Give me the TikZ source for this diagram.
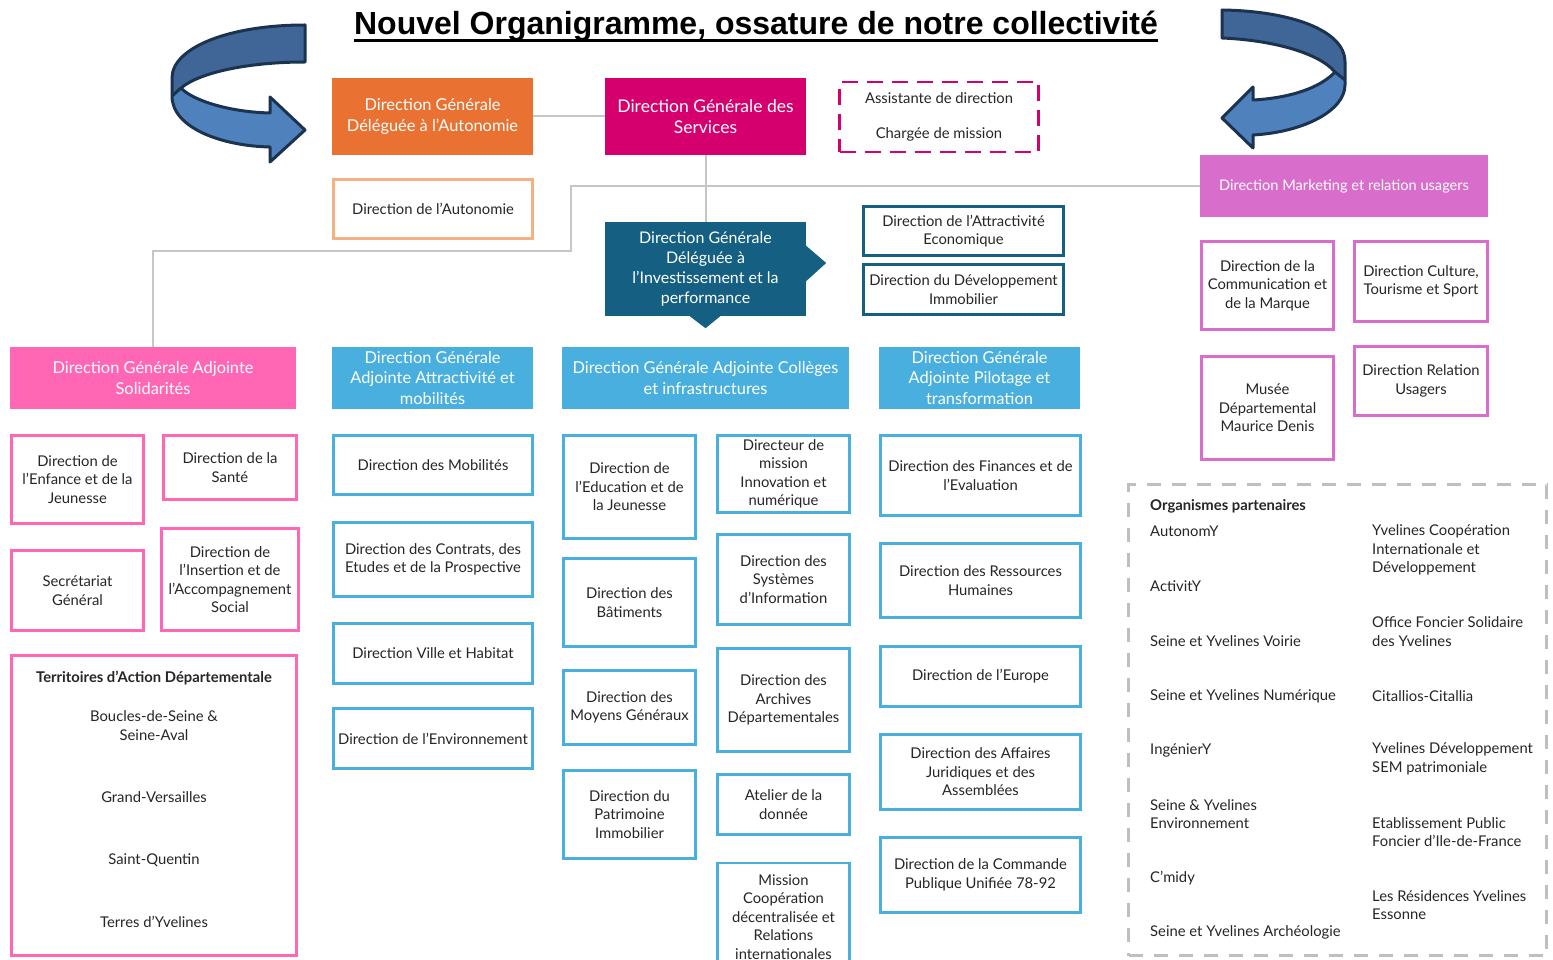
\documentclass[tikz,border=0pt]{standalone}
\usepackage{fontspec}
\setmainfont{Lato}
\newfontfamily\titlefont{Liberation Sans}
\usetikzlibrary{calc}
\definecolor{corange}{HTML}{E97132}
\definecolor{cdgs}{HTML}{D5006E}
\definecolor{cteal}{HTML}{156082}
\definecolor{cpink}{HTML}{FF66B4}
\definecolor{cblue}{HTML}{48AFDF}
\definecolor{corchid}{HTML}{D86DCB}
\definecolor{cpeach}{HTML}{F4B183}
\definecolor{cline}{HTML}{C6C6C6}
\definecolor{cdash}{HTML}{BFBFBF}
\definecolor{ctxt}{HTML}{262626}
\definecolor{arrdark}{HTML}{3F6696}
\definecolor{arrlight}{HTML}{4F81BD}
\definecolor{arrline}{HTML}{1C3350}

\begin{document}
\begin{tikzpicture}[x=1pt,y=-1pt,
   hd/.style={fill=#1, text=white, align=center, inner sep=2pt,
     font=\fontsize{16.4}{20.5}\selectfont},
   bx/.style={draw=#1, line width=2.8pt, fill=white, text=ctxt, align=center,
     inner sep=2pt, font=\fontsize{14.8}{18.4}\selectfont},
   sz/.style 2 args={minimum width=#1, minimum height=#2},
   link/.style={draw=cline, line width=2pt},
   lbl/.style={text=ctxt, align=center, inner sep=0pt, font=\fontsize{14.8}{18.4}\selectfont},
   org/.style={lbl, anchor=west, align=left},
   arrow shape/.style={line width=3pt, draw=arrline, line join=round}]
  \useasboundingbox[fill=white] (0,0) rectangle (1553,960);

  \node[inner sep=0pt, font=\titlefont\bfseries\fontsize{32}{36}\selectfont] (ttl) at (756,26)
    {Nouvel Organigramme, ossature de notre collectivité};
  \draw[line width=2.8pt] ([yshift=-6pt]ttl.base west) -- ([yshift=-6pt]ttl.base east);

  \fill[arrlight] (305,25) .. controls (228,25) and (172,48) .. (172,78) -- (172,96)
    .. controls (172,128) and (222,146) .. (270,147) -- (270,162) -- (305,130) -- (270,97)
    -- (270,113) .. controls (228,112) and (192,100) .. (181,88)
    .. controls (200,72) and (250,62) .. (305,62) -- cycle;
  \fill[arrdark] (305,25) .. controls (228,25) and (172,48) .. (172,78) -- (172,96) -- (181,88)
    .. controls (200,72) and (250,62) .. (305,62) -- cycle;
  \draw[arrow shape] (305,25) .. controls (228,25) and (172,48) .. (172,78) -- (172,96)
    .. controls (172,128) and (222,146) .. (270,147) -- (270,162) -- (305,130) -- (270,97)
    -- (270,113) .. controls (228,112) and (192,100) .. (181,88)
    .. controls (200,72) and (250,62) .. (305,62) -- cycle;
  \draw[arrow shape] (172,96) -- (181,88);

  \fill[arrlight] (1222,10) -- (1222,38) .. controls (1270,40) and (1318,52) .. (1335,72)
    .. controls (1320,88) and (1290,98) .. (1253,100) -- (1253,87) -- (1222,118) -- (1253,148)
    -- (1253,135) .. controls (1305,132) and (1345,110) .. (1345,85) -- (1345,62)
    .. controls (1345,30) and (1290,11) .. (1222,10) -- cycle;
  \fill[arrdark] (1222,10) -- (1222,38) .. controls (1270,40) and (1318,52) .. (1335,72)
    -- (1345,80) -- (1345,62) .. controls (1345,30) and (1290,11) .. (1222,10) -- cycle;
  \draw[arrow shape] (1222,10) -- (1222,38) .. controls (1270,40) and (1318,52) .. (1335,72)
    .. controls (1320,88) and (1290,98) .. (1253,100) -- (1253,87) -- (1222,118) -- (1253,148)
    -- (1253,135) .. controls (1305,132) and (1345,110) .. (1345,85) -- (1345,62)
    .. controls (1345,30) and (1290,11) .. (1222,10) -- cycle;
  \draw[arrow shape] (1335,72) -- (1345,80);

  \node[hd=corange, sz={201pt}{77pt}] (dgda) at (432.5,116.5)
    {Direction Générale\\Déléguée à l’Autonomie};
  \node[hd=cdgs, sz={201pt}{77pt}, font=\fontsize{17.5}{21.5}\selectfont] (dgs) at (705.5,116.5)
    {Direction Générale des\\Services};
  \node[bx=cdgs, dash pattern=on 16pt off 9pt, sz={199pt}{70pt}, font=\fontsize{14.8}{35}\selectfont]
    (asst) at (939,117) {Assistante de direction\\Chargée de mission};
  \node[bx=cpeach, sz={199pt}{59pt}] (auto) at (433,209) {Direction de l’Autonomie};
  \node[hd=cteal, sz={201pt}{94pt}, font=\fontsize{16}{20.3}\selectfont] (dgdi) at (705.5,269)
    {Direction Générale\\Déléguée à\\l’Investissement et la\\performance};
  \fill[cteal] ($(dgdi.east)+(-1,-24)$) -- ($(dgdi.east)+(20,-6)$) -- ($(dgdi.east)+(-1,13)$) -- cycle;
  \fill[cteal] ($(dgdi.south)+(-17,-1)$) -- ($(dgdi.south)+(0,12)$) -- ($(dgdi.south)+(16,-1)$) -- cycle;
  \node[bx=cteal, sz={200pt}{49pt}] (attr) at (963.5,231) {Direction de l’Attractivité\\Economique};
  \node[bx=cteal, sz={200pt}{50pt}] (immo) at (963.5,289.5) {Direction du Développement\\Immobilier};

  \node[hd=corchid, sz={288pt}{62pt}, font=\fontsize{14.6}{17}\selectfont] (mkt) at (1344,186)
    {Direction Marketing et relation usagers};
  \node[bx=corchid, sz={132pt}{88pt}] (com) at (1267.5,285.5)
    {Direction de la\\Communication et\\de la Marque};
  \node[bx=corchid, sz={133pt}{80pt}] (cult) at (1421,281.5) {Direction Culture,\\Tourisme et Sport};
  \node[bx=corchid, sz={132pt}{103pt}] (musee) at (1267.5,408)
    {Musée\\Départemental\\Maurice Denis};
  \node[bx=corchid, sz={133pt}{69pt}] (rel) at (1421,381) {Direction Relation\\Usagers};

  \node[hd=cpink, sz={286pt}{62pt}] (sol) at (153,378) {Direction Générale Adjointe\\Solidarités};
  \node[bx=cpink, sz={132pt}{88pt}] (enf) at (77.5,479.5) {Direction de\\l’Enfance et de la\\Jeunesse};
  \node[bx=cpink, sz={133pt}{64pt}] (sante) at (230,467.5) {Direction de la\\Santé};
  \node[bx=cpink, sz={132pt}{80pt}] (secr) at (77.5,590.5) {Secrétariat\\Général};
  \node[bx=cpink, sz={137pt}{102pt}] (ins) at (230,579.5)
    {Direction de\\l’Insertion et de\\l’Accompagnement\\Social};
  \node[bx=cpink, sz={285pt}{300pt}] (terr) at (154,805.5) {};
  \node[lbl, font=\bfseries\fontsize{14.8}{18.4}\selectfont] (terrt) at (154,678)
    {Territoires d’Action Départementale};
  \node[lbl] (tbs) at (154,725.5) {Boucles-de-Seine \&\\Seine-Aval};
  \node[lbl] (tgv) at (154,797) {Grand-Versailles};
  \node[lbl] (tsq) at (154,860) {Saint-Quentin};
  \node[lbl] (tty) at (154,922) {Terres d’Yvelines};

  \node[hd=cblue, sz={201pt}{62pt}] (att) at (432.5,378)
    {Direction Générale\\Adjointe Attractivité et\\mobilités};
  \node[bx=cblue, sz={199pt}{59pt}] (mob) at (433,465) {Direction des Mobilités};
  \node[bx=cblue, sz={199pt}{74pt}] (contr) at (433,559.5)
    {Direction des Contrats, des\\Etudes et de la Prospective};
  \node[bx=cblue, sz={199pt}{60pt}] (ville) at (433,653.5) {Direction Ville et Habitat};
  \node[bx=cblue, sz={199pt}{60pt}] (envi) at (433,738.5) {Direction de l’Environnement};

  \node[hd=cblue, sz={287pt}{62pt}] (col) at (705.5,378)
    {Direction Générale Adjointe Collèges\\et infrastructures};
  \node[bx=cblue, sz={132pt}{103pt}] (edu) at (629.5,487)
    {Direction de\\l’Education et de\\la Jeunesse};
  \node[bx=cblue, sz={132pt}{88pt}] (bat) at (629.5,602.5) {Direction des\\Bâtiments};
  \node[bx=cblue, sz={132pt}{74pt}] (moy) at (629.5,707.5) {Direction des\\Moyens Généraux};
  \node[bx=cblue, sz={132pt}{88pt}] (pat) at (629.5,814.5)
    {Direction du\\Patrimoine\\Immobilier};
  \node[bx=cblue, sz={132pt}{77pt}] (dir) at (783.5,474)
    {Directeur de\\mission\\Innovation et\\numérique};
  \node[bx=cblue, sz={132pt}{90pt}] (sys) at (783.5,579.5)
    {Direction des\\Systèmes\\d’Information};
  \node[bx=cblue, sz={132pt}{103pt}] (arch) at (783.5,700)
    {Direction des\\Archives\\Départementales};
  \node[bx=cblue, sz={132pt}{60pt}] (atel) at (783.5,804.5) {Atelier de la\\donnée};
  \node[bx=cblue, sz={132pt}{108pt}] (miss) at (783.5,917)
    {Mission\\Coopération\\décentralisée et\\Relations\\internationales};

  \node[hd=cblue, sz={201pt}{62pt}] (pil) at (979.5,378)
    {Direction Générale\\Adjointe Pilotage et\\transformation};
  \node[bx=cblue, sz={200pt}{80pt}] (fin) at (980.5,475.5)
    {Direction des Finances et de\\l’Evaluation};
  \node[bx=cblue, sz={200pt}{74pt}] (rh) at (980.5,580.5)
    {Direction des Ressources\\Humaines};
  \node[bx=cblue, sz={200pt}{60pt}] (eur) at (980.5,676.5) {Direction de l’Europe};
  \node[bx=cblue, sz={200pt}{75pt}] (aff) at (980.5,772)
    {Direction des Affaires\\Juridiques et des\\Assemblées};
  \node[bx=cblue, sz={200pt}{75pt}] (cmd) at (980.5,875)
    {Direction de la Commande\\Publique Unifiée 78-92};

  \node[draw=cdash, line width=3pt, dash pattern=on 14pt off 11pt, sz={418pt}{471pt}]
    (orga) at (1337.5,720) {};
  \node[org, font=\bfseries\fontsize{14.8}{18.4}\selectfont] (orgt) at (1150,506) {Organismes partenaires};
  \node[org] (o1) at (1150,531) {AutonomY};
  \node[org] (o2) at (1150,586) {ActivitY};
  \node[org] (o3) at (1150,641) {Seine et Yvelines Voirie};
  \node[org] (o4) at (1150,696) {Seine et Yvelines Numérique};
  \node[org] (o5) at (1150,750) {IngénierY};
  \node[org] (o6) at (1150,814) {Seine \& Yvelines\\Environnement};
  \node[org] (o7) at (1150,878) {C’midy};
  \node[org] (o8) at (1150,932) {Seine et Yvelines Archéologie};
  \node[org] (p1) at (1372,550) {Yvelines Coopération\\Internationale et\\Développement};
  \node[org] (p2) at (1372,631.5) {Office Foncier Solidaire\\des Yvelines};
  \node[org] (p3) at (1372,696) {Citallios-Citallia};
  \node[org] (p4) at (1372,759) {Yvelines Développement\\SEM patrimoniale};
  \node[org] (p5) at (1372,832) {Etablissement Public\\Foncier d’Ile-de-France};
  \node[org] (p6) at (1372,905) {Les Résidences Yvelines\\Essonne};

  \coordinate (jn) at (571,186);
  \coordinate (bend) at (153,251);
  \draw[link] (dgda) -- (dgs);
  \draw[link] (dgs) -- (dgdi);
  \draw[link] (mkt.west) -- (jn) |- (bend) -- (sol.north);
\end{tikzpicture}
\end{document}
